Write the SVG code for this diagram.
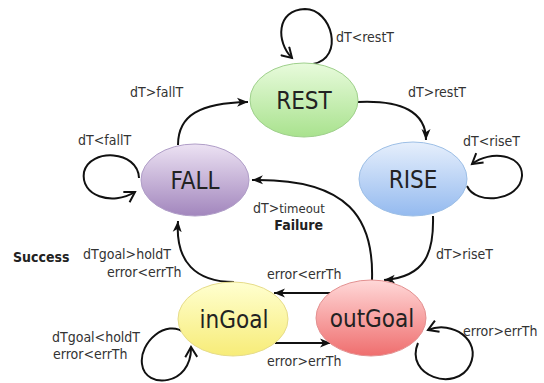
<svg xmlns="http://www.w3.org/2000/svg" width="544" height="383" viewBox="0 0 544 383">
<style>
text{font-family:"DejaVu Sans Condensed","DejaVu Sans",sans-serif;font-stretch:condensed;}
.lbl{font-size:14px;fill:#333;}
.b{font-weight:bold;fill:#222;}
.node{font-size:24px;fill:#222;text-anchor:middle;}
.c{fill:none;stroke:#111;stroke-width:2;}
</style>
<defs>
<linearGradient id="gRest" x1="0" y1="0" x2="0" y2="1"><stop offset="0" stop-color="#e8fbdc"/><stop offset="1" stop-color="#a9e28e"/></linearGradient>
<linearGradient id="gFall" x1="0" y1="0" x2="0" y2="1"><stop offset="0" stop-color="#ece2f3"/><stop offset="1" stop-color="#a286bd"/></linearGradient>
<linearGradient id="gRise" x1="0" y1="0" x2="0" y2="1"><stop offset="0" stop-color="#e6effc"/><stop offset="1" stop-color="#94baef"/></linearGradient>
<linearGradient id="gIn" x1="0" y1="0" x2="0" y2="1"><stop offset="0" stop-color="#ffffd0"/><stop offset="1" stop-color="#f7ec78"/></linearGradient>
<linearGradient id="gOut" x1="0" y1="0" x2="0" y2="1"><stop offset="0" stop-color="#ffd8d8"/><stop offset="1" stop-color="#ef6e6e"/></linearGradient>
<marker id="ah" markerWidth="12" markerHeight="10" refX="11" refY="5" orient="auto" markerUnits="userSpaceOnUse"><path d="M0,0.5 L11,5 L0,9.5 L3,5 z" fill="#111"/></marker>
<marker id="oa" markerWidth="14" markerHeight="14" refX="11" refY="7" orient="auto" markerUnits="userSpaceOnUse"><path d="M1,1 L11,7 L1,13" fill="none" stroke="#111" stroke-width="2"/></marker>
</defs>
<rect width="544" height="383" fill="#fff"/>
<g id="connectors">
<path class="c" d="M313,64 C345,58 332,9 305,9 C276,10 276,42 292,58" marker-end="url(#oa)"/>
<path class="c" d="M358,102 C402,100 426,112 426,140" marker-end="url(#ah)"/>
<path class="c" d="M467,186 C476,206 520,201 522,176 C523,154 490,150 472,164" marker-end="url(#oa)"/>
<path class="c" d="M433,216 C434,252 426,277 384,280" marker-end="url(#ah)"/>
<path class="c" d="M372,280 C374,220 350,178 252,180" marker-end="url(#ah)"/>
<path class="c" d="M331,293 L274,293" marker-end="url(#ah)"/>
<path class="c" d="M275,343 L331,343" marker-end="url(#ah)"/>
<path class="c" d="M418,343 C404,376 456,393 470,365 C482,340 452,320 428,330" marker-end="url(#oa)"/>
<path class="c" d="M185,333 C166,318 139,343 142,364 C145,390 192,386 191,347" marker-end="url(#oa)"/>
<path class="c" d="M234,282 C196,282 175,262 178,221" marker-end="url(#ah)"/>
<path class="c" d="M139,178 C138,150 90,148 84,172 C80,196 112,206 135,192" marker-end="url(#oa)"/>
<path class="c" d="M178,145 C178,115 200,103 248,102" marker-end="url(#ah)"/>
</g>
<g id="REST">
<ellipse cx="304" cy="100" rx="54" ry="37" fill="url(#gRest)" stroke="#9fd08c" stroke-width="1"/>
<text class="node" x="304" y="109">REST</text>
</g>
<g id="FALL">
<ellipse cx="195" cy="180" rx="54" ry="36" fill="url(#gFall)" stroke="#b09ec8" stroke-width="1"/>
<text class="node" x="195" y="189">FALL</text>
</g>
<g id="RISE">
<ellipse cx="413" cy="179" rx="54" ry="37" fill="url(#gRise)" stroke="#9dbfe6" stroke-width="1"/>
<text class="node" x="413" y="188">RISE</text>
</g>
<g id="inGoal">
<ellipse cx="233" cy="319" rx="55" ry="37" fill="url(#gIn)" stroke="#e6dc8a" stroke-width="1"/>
<text class="node" x="234" y="328">inGoal</text>
</g>
<g id="outGoal">
<ellipse cx="371" cy="318" rx="55" ry="38" fill="url(#gOut)" stroke="#e39090" stroke-width="1"/>
<text class="node" x="372" y="327">outGoal</text>
</g>
<g id="labels">
<text class="lbl" x="336" y="42">dT&lt;restT</text>
<text class="lbl" x="408" y="97">dT&gt;restT</text>
<text class="lbl" x="463" y="146">dT&lt;riseT</text>
<text class="lbl" x="436" y="259">dT&gt;riseT</text>
<text class="lbl" x="253" y="213">dT&gt;<tspan font-size="13">timeout</tspan></text>
<text class="lbl b" x="323" y="230" text-anchor="end">Failure</text>
<text class="lbl" x="267" y="279">error&lt;errTh</text>
<text class="lbl" x="267" y="366">error&gt;errTh</text>
<text class="lbl" x="463" y="336">error&gt;errTh</text>
<text class="lbl" x="52" y="342">dTgoal&lt;holdT</text>
<text class="lbl" x="53" y="359">error&lt;errTh</text>
<text class="lbl b" x="13" y="262" font-size="15">Success</text>
<text class="lbl" x="83" y="259">dTgoal&gt;holdT</text>
<text class="lbl" x="107" y="277">error&lt;errTh</text>
<text class="lbl" x="78" y="145">dT&lt;fallT</text>
<text class="lbl" x="130" y="97">dT&gt;fallT</text>
</g>
</svg>
